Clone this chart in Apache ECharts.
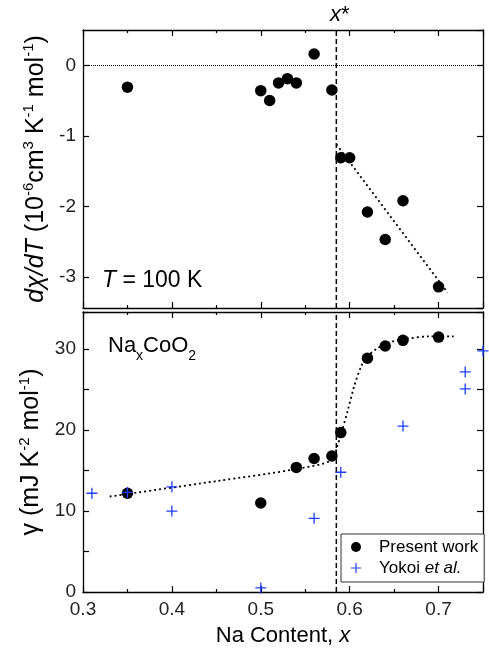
<!DOCTYPE html>
<html>
<head>
<meta charset="utf-8">
<script src="https://cdn.jsdelivr.net/npm/echarts@6/dist/echarts.min.js"></script>
<style>
  html, body { margin: 0; padding: 0; background: #fff; }
  #chart { width: 489px; height: 651px; }
</style>
</head>
<body>
<div id="chart"></div>
<script>
// --- data ---
var xStar = 0.585;
var xRange = [0.3, 0.75];
var yRangeTop = [-3.44, 0.5];
var yRangeBottom = [0, 34.6];

// top panel: dchi/dT at T = 100 K
var dxdtX = [0.35, 0.50, 0.51, 0.52, 0.53, 0.54, 0.56, 0.58, 0.59, 0.60, 0.62, 0.64, 0.66, 0.70];
var dxdtY = [-0.31, -0.36, -0.50, -0.25, -0.19, -0.25, 0.16, -0.35, -1.31, -1.31, -2.08, -2.47, -1.92, -3.14];
var dxdtFitX = [0.585, 0.71];
var dxdtFitY = [-1.12, -3.22];

// bottom panel: gamma
var gammaX = [0.35, 0.50, 0.54, 0.56, 0.58, 0.59, 0.62, 0.64, 0.66, 0.70];
var gammaY = [12.2, 11.0, 15.4, 16.5, 16.8, 19.7, 28.9, 30.4, 31.1, 31.5];
var yokoiX = [0.31, 0.35, 0.40, 0.40, 0.50, 0.56, 0.59, 0.66, 0.73, 0.73, 0.75];
var yokoiY = [12.2, 12.3, 13.0, 10.0, 0.5, 9.1, 14.8, 20.5, 27.2, 25.1, 29.8];
var gammaFitX = [0.33, 0.45, 0.54, 0.58, 0.586, 0.591, 0.598, 0.605, 0.613, 0.62, 0.631, 0.646, 0.665, 0.69, 0.717];
var gammaFitY = [11.8, 13.7, 15.2, 16.3, 18.0, 19.8, 22.5, 25.4, 27.9, 29.1, 30.1, 30.9, 31.3, 31.6, 31.6];

var legendNames = ['Present work', 'Yokoi et al.'];

var FONT = 'Liberation Sans, Arial, sans-serif';
var plus = 'path://M4.4,0h1.2v4.4h4.4v1.2h-4.4v4.4h-1.2v-4.4h-4.4v-1.2h4.4z';

function pts(xs, ys) {
    return xs.map(function (x, i) { return [x, ys[i]]; });
}

var lineSt = { show: true, onZero: false, lineStyle: { color: '#000', width: 1.3 } };
var tickSt = { show: true, inside: true, length: 6, lineStyle: { color: '#000', width: 1.2 } };

// frame axis, ticks pointing inward
function xAx(grid, pos, labels) {
    return {
        type: 'value', gridIndex: grid, position: pos,
        min: xRange[0], max: xRange[1], interval: 0.1,
        axisLine: lineSt,
        axisTick: tickSt,
        minorTick: { show: true, splitNumber: 2, length: 3, lineStyle: { color: '#000', width: 1.2 } },
        splitLine: { show: false },
        axisLabel: {
            show: labels, showMaxLabel: false, margin: 8,
            fontFamily: FONT, fontSize: 19, color: '#222',
            formatter: function (v) { return v.toFixed(1); }
        }
    };
}

function yAx(grid, pos, range, extra) {
    var a = {
        type: 'value', gridIndex: grid, position: pos, min: range[0], max: range[1],
        axisLine: lineSt,
        axisTick: tickSt,
        splitLine: { show: false },
        axisLabel: { show: pos === 'left', showMinLabel: grid === 1, showMaxLabel: false, margin: 7, fontFamily: FONT, fontSize: 19, color: '#222' }
    };
    return Object.assign(a, extra);
}

var pane = echarts.init(document.getElementById('chart'));

var sub = { fontFamily: FONT, fontSize: 15, color: '#000', verticalAlign: 'top', lineHeight: 15 };
var nrmY = { fontFamily: FONT, fontSize: 25, color: '#000', lineHeight: 28 };
var itlY = { fontFamily: FONT, fontSize: 25, color: '#000', fontStyle: 'italic', lineHeight: 28 };
var nrm = { fontFamily: FONT, fontSize: 22, color: '#000', lineHeight: 26 };
var itl = { fontFamily: FONT, fontSize: 22, color: '#000', fontStyle: 'italic', lineHeight: 26 };
var nrm23 = { fontFamily: FONT, fontSize: 23, color: '#000', lineHeight: 26 };
var itl23 = { fontFamily: FONT, fontSize: 23, color: '#000', fontStyle: 'italic', lineHeight: 26 };

var minorY = { minorTick: { show: true, splitNumber: 2, length: 6, lineStyle: { color: '#000', width: 1.2 } } };

var option = {
    animation: false,
    backgroundColor: '#fff',
    grid: [
        { left: 83, right: 6, top: 30, height: 278 },
        { left: 83, right: 6, top: 312, height: 280 }
    ],
    xAxis: [
        xAx(0, 'bottom', false),
        xAx(0, 'top', false),
        Object.assign(xAx(1, 'bottom', true), {
            name: 'Na Content, {i|x}', nameLocation: 'middle', nameGap: 31,
            nameTextStyle: { fontFamily: FONT, fontSize: 22, color: '#000', rich: { i: itl } }
        }),
        xAx(1, 'top', false)
    ],
    yAxis: [
        yAx(0, 'left', yRangeTop, {
            splitNumber: 4,
            name: '{i|d\u03c7/dT}{n| (10}{s|-6}{n|cm}{s|3}{n| K}{s|-1}{n| mol}{s|-1}{n|)}',
            nameLocation: 'middle', nameRotate: 90, nameGap: 32,
            nameTextStyle: { rich: { i: itlY, n: nrmY, s: sub } }
        }),
        yAx(0, 'right', yRangeTop, { splitNumber: 4 }),
        yAx(1, 'left', yRangeBottom, Object.assign({
            interval: 10,
            name: '{n|\u03b3 (mJ K}{s|-2}{n| mol}{s|-1}{n|)}',
            nameLocation: 'middle', nameRotate: 90, nameGap: 32,
            nameTextStyle: { rich: { n: nrmY, s: sub } }
        }, minorY)),
        yAx(1, 'right', yRangeBottom, Object.assign({ interval: 10 }, minorY))
    ],
    legend: {
        orient: 'vertical', left: 341, top: 534,
        padding: [3, 6, 4, 10], itemGap: 1,
        itemWidth: 10, itemHeight: 10,
        borderColor: '#333', borderWidth: 1, backgroundColor: '#fff',
        data: [
            { name: legendNames[0], icon: 'circle' },
            { name: legendNames[1], icon: plus }
        ],
        formatter: function (n) { return n === legendNames[1] ? 'Yokoi {i|et al.}' : n; },
        textStyle: {
            fontFamily: FONT, fontSize: 17, color: '#000', lineHeight: 20, padding: [0, 0, 0, 13],
            rich: { i: { fontFamily: FONT, fontSize: 17, fontStyle: 'italic', color: '#000' } }
        }
    },
    series: [
        {
            name: legendNames[0], type: 'scatter', xAxisIndex: 0, yAxisIndex: 0,
            symbol: 'circle', symbolSize: 11.5, itemStyle: { color: '#000', opacity: 1 },
            data: pts(dxdtX, dxdtY),
            markLine: {
                silent: true, symbol: 'none', animation: false,
                label: { show: false },
                data: [{ yAxis: 0, lineStyle: { color: '#000', width: 1, type: [1, 1] } }]
            },
            z: 3
        },
        {
            name: 'xStarTop', type: 'line', xAxisIndex: 0, yAxisIndex: 0,
            showSymbol: false, symbol: 'none', silent: true,
            lineStyle: { color: '#000', width: 1.5, type: [5, 3] },
            data: pts([xStar, xStar], yRangeTop), z: 1
        },
        {
            name: 'fitTop', type: 'line', xAxisIndex: 0, yAxisIndex: 0,
            showSymbol: false, symbol: 'none',
            lineStyle: { color: '#000', width: 1.8, type: [2, 3] },
            data: pts(dxdtFitX, dxdtFitY), z: 2
        },
        {
            name: legendNames[0], type: 'scatter', xAxisIndex: 2, yAxisIndex: 2,
            symbol: 'circle', symbolSize: 11.5, itemStyle: { color: '#000', opacity: 1 },
            data: pts(gammaX, gammaY), z: 3
        },
        {
            name: 'xStarBottom', type: 'line', xAxisIndex: 2, yAxisIndex: 2,
            showSymbol: false, symbol: 'none', silent: true,
            lineStyle: { color: '#000', width: 1.5, type: [5, 3] },
            data: pts([xStar, xStar], yRangeBottom), z: 1
        },
        {
            name: legendNames[1], type: 'scatter', xAxisIndex: 2, yAxisIndex: 2,
            symbol: plus, symbolSize: 11, itemStyle: { color: '#1f3fff', opacity: 1 },
            data: pts(yokoiX, yokoiY), z: 4
        },
        {
            name: 'fitBottom', type: 'line', xAxisIndex: 2, yAxisIndex: 2,
            showSymbol: false, symbol: 'none', smooth: 0.3,
            lineStyle: { color: '#000', width: 1.8, type: [2, 3] },
            data: pts(gammaFitX, gammaFitY), z: 2
        }
    ],
    graphic: [
        {
            type: 'text', left: 330, top: 4, z: 10,
            style: { text: '{i|x}{n|*}', rich: { i: itl, n: nrm } }
        },
        {
            type: 'text', left: 102, top: 269, z: 10,
            style: { text: '{i|T}{n| = 100 K}', rich: { i: itl23, n: nrm23 } }
        },
        {
            type: 'text', left: 108, top: 335, z: 10,
            style: {
                text: '{n|Na}{b|x}{n|CoO}{b|2}',
                rich: {
                    n: nrm,
                    b: { fontFamily: FONT, fontSize: 14, color: '#000', verticalAlign: 'bottom', lineHeight: 14, padding: [0, 0, -4, 0] }
                }
            }
        }
    ]
};

pane.setOption(option);
</script>
</body>
</html>
